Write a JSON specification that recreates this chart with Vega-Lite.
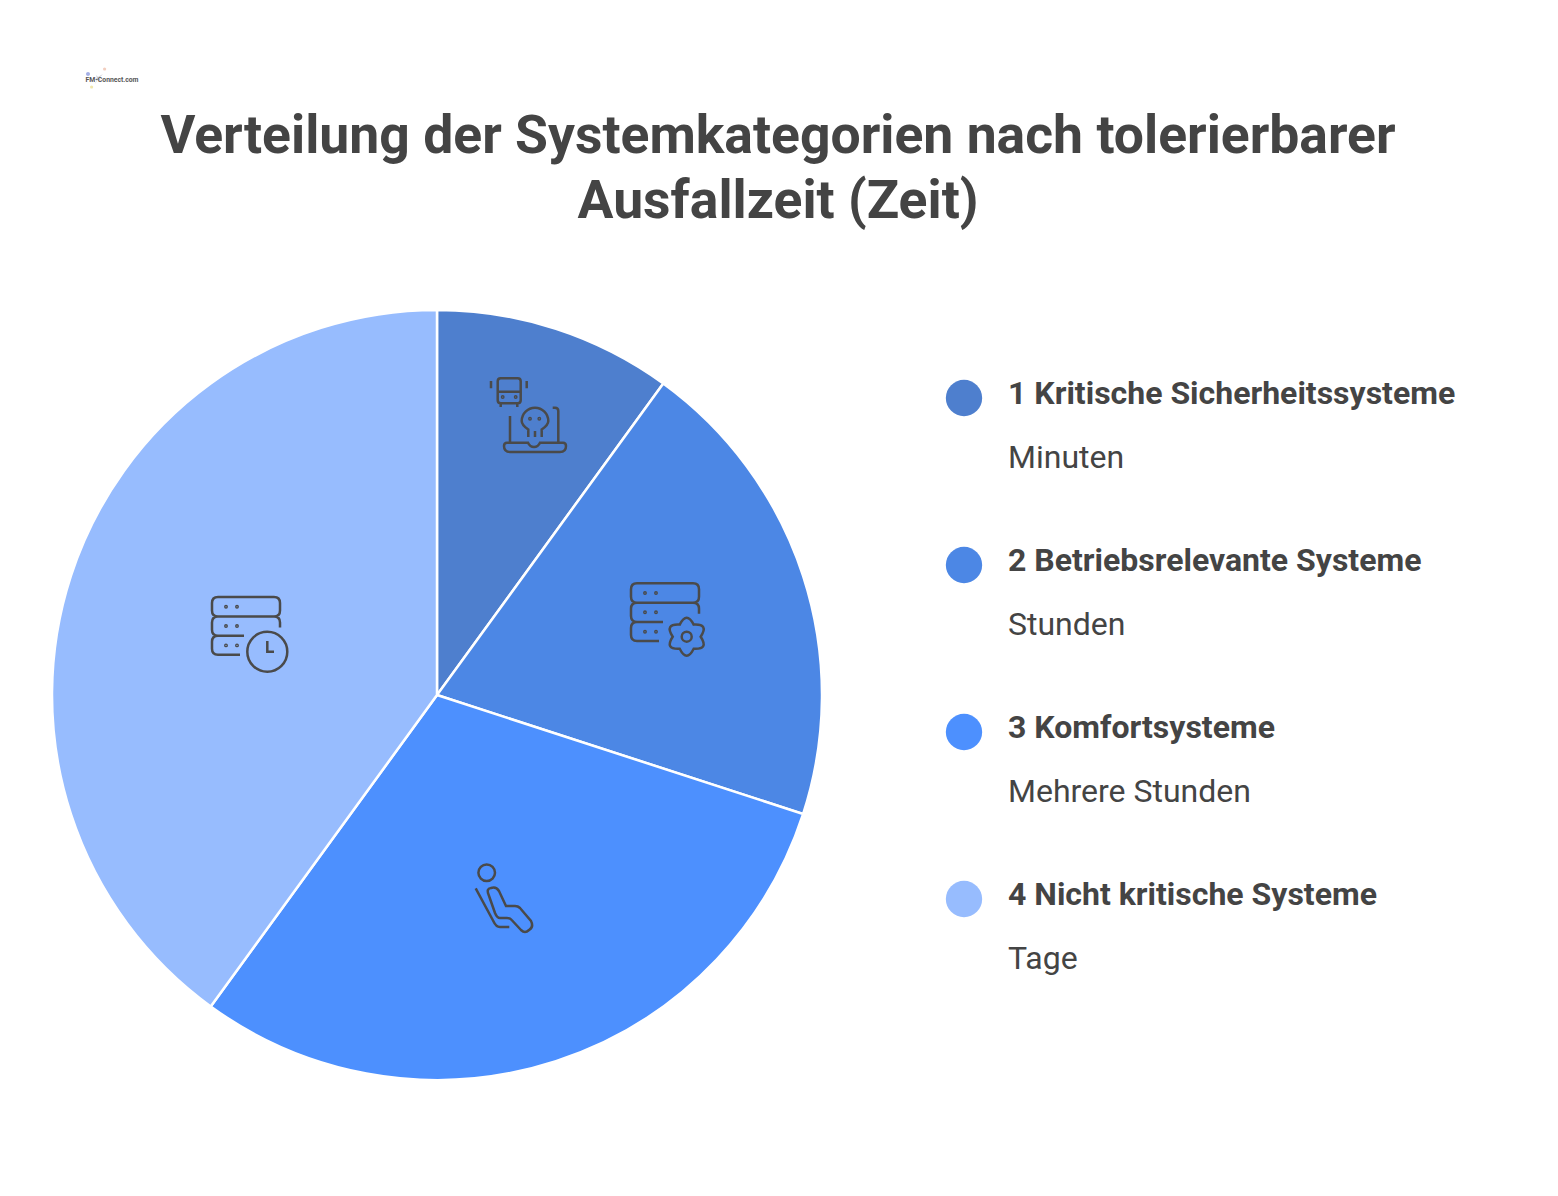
{
  "$schema": "https://vega.github.io/schema/vega-lite/v6.json",
  "description": "Verteilung der Systemkategorien nach tolerierbarer Ausfallzeit",
  "background": "white",
  "padding": {"left": 47, "top": 67, "right": 0, "bottom": 0},
  "config": {"view": {"stroke": null}, "font": "Roboto"},
  "datasets": {
    "systeme": [
      {"Kategorie": "1 Kritische Sicherheitssysteme", "Ausfallzeit": "Minuten", "Anteil": 10},
      {"Kategorie": "2 Betriebsrelevante Systeme", "Ausfallzeit": "Stunden", "Anteil": 20},
      {"Kategorie": "3 Komfortsysteme", "Ausfallzeit": "Mehrere Stunden", "Anteil": 30},
      {"Kategorie": "4 Nicht kritische Systeme", "Ausfallzeit": "Tage", "Anteil": 40}
    ]
  },
  "vconcat": [
    {
      "width": 116,
      "height": 24,
      "layer": [
        {
          "data": {"values": [{"Fleck": "a"}, {"Fleck": "b"}, {"Fleck": "c"}, {"Fleck": "d"}]},
          "mark": {"type": "point", "filled": true, "size": 4, "opacity": 0.55},
          "encoding": {
            "shape": {
              "field": "Fleck",
              "type": "nominal",
              "legend": null,
              "scale": {
                "range": [
                  "M-24,-23 a2,2 0 1,0 4,0 a2,2 0 1,0 -4,0",
                  "M-7,-28 a1.6,1.6 0 1,0 3.2,0 a1.6,1.6 0 1,0 -3.2,0",
                  "M-20,-10 a1.6,1.6 0 1,0 3.2,0 a1.6,1.6 0 1,0 -3.2,0",
                  "M-14,-22 L-13,-19 L-17,-20 L-13,-18 L-15,-13 L-12,-18 L-9,-15 L-11,-19 L-7,-23 L-12,-20 Z"
                ]
              }
            },
            "color": {
              "field": "Fleck",
              "type": "nominal",
              "legend": null,
              "scale": {"range": ["#5b6fd0", "#e8a68a", "#e3d36a", "#9a9fb0"]}
            }
          }
        },
        {
          "data": {"values": [{"logo": "FM-Connect.com"}]},
          "mark": {"type": "text", "fontSize": 6.8, "fontWeight": "bold", "color": "#555555", "dx": 2, "dy": -17},
          "encoding": {"text": {"field": "logo"}}
        }
      ],
      "resolve": {"scale": {"color": "independent"}}
    },
    {
      "title": {
        "text": ["Verteilung der Systemkategorien nach tolerierbarer", "Ausfallzeit (Zeit)"],
        "fontSize": 53.5,
        "lineHeight": 65,
        "fontWeight": "bold",
        "color": "#444444",
        "anchor": "middle",
        "offset": 76
      },
      "hconcat": [
        {
          "width": 770,
          "height": 770,
          "data": {"name": "systeme"},
          "layer": [
            {
              "mark": {"type": "arc", "stroke": "white", "strokeWidth": 2.5},
              "encoding": {
                "theta": {"field": "Anteil", "type": "quantitative", "stack": true},
                "color": {
                  "field": "Kategorie",
                  "type": "nominal",
                  "scale": {"range": ["#4e7fce", "#4c87e5", "#4d90fe", "#97bcfe"]},
                  "legend": null
                },
                "order": {"field": "Kategorie"}
              }
            },
            {
              "mark": {"type": "point", "filled": false, "size": 4, "stroke": "#4a4a4a", "strokeWidth": 2.5, "opacity": 1},
              "encoding": {
                "shape": {
                  "field": "Kategorie",
                  "type": "nominal",
                  "legend": null,
                  "scale": {
                    "range": [
                      "M60.7,-313.7 Q60.7,-316.7 63.7,-316.7 H80.7 Q83.7,-316.7 83.7,-313.7 V-294.7 Q83.7,-291.7 80.7,-291.7 H63.7 Q60.7,-291.7 60.7,-294.7 Z M60.7,-303.3 H83.7 M63.7,-291.7 V-288 M80.3,-291.7 V-288 M65,-298 a0.7,0.7 0 1,0 1.4,0 a0.7,0.7 0 1,0 -1.4,0 M78,-298 a0.7,0.7 0 1,0 1.4,0 a0.7,0.7 0 1,0 -1.4,0 M54,-314 V-306.7 M89.7,-314 V-306.7 M91.3,-258 V-265.5 Q84.7,-270 84.7,-274 A13.3,13.3 0 1,1 111.3,-274 Q111.3,-270 104.7,-265.5 V-258 M98,-258 V-264 M92.3,-276.3 a0.7,0.7 0 1,0 1.4,0 a0.7,0.7 0 1,0 -1.4,0 M101.6,-276.3 a0.7,0.7 0 1,0 1.4,0 a0.7,0.7 0 1,0 -1.4,0 M73,-279 V-253 M115.7,-287.3 H118 Q121.3,-287.3 121.3,-284 V-253 M70,-252.3 H91 Q93,-248 97,-248 Q101,-248 103,-252.3 H126 Q129,-252.3 129,-249 Q129,-243 123,-243 H73 Q67,-243 67,-249 Q67,-252.3 70,-252.3 Z",
                      "M200,-111.7 H256 Q262,-111.7 262,-105.7 V-98.3 Q262,-92.3 256,-92.3 H200 Q194,-92.3 194,-98.3 V-105.7 Q194,-111.7 200,-111.7 Z M200,-92.3 Q194,-92.3 194,-86.3 V-79 Q194,-73 200,-73 H226 M256,-92.3 Q262,-92.3 262,-86.3 V-81.3 M200,-73 Q194,-73 194,-67 V-60 Q194,-54 200,-54 H222 M207.3,-102 a0.7,0.7 0 1,0 1.4,0 a0.7,0.7 0 1,0 -1.4,0 M218.3,-102 a0.7,0.7 0 1,0 1.4,0 a0.7,0.7 0 1,0 -1.4,0 M207.3,-82.7 a0.7,0.7 0 1,0 1.4,0 a0.7,0.7 0 1,0 -1.4,0 M218.3,-82.7 a0.7,0.7 0 1,0 1.4,0 a0.7,0.7 0 1,0 -1.4,0 M207.3,-63.3 a0.7,0.7 0 1,0 1.4,0 a0.7,0.7 0 1,0 -1.4,0 M218.3,-63.3 a0.7,0.7 0 1,0 1.4,0 a0.7,0.7 0 1,0 -1.4,0 M242.7,-70.4 Q249.7,-84.3 256.7,-70.4 Q272.2,-71.3 263.7,-58.3 Q272.2,-45.3 256.7,-46.2 Q249.7,-32.3 242.7,-46.2 Q227.2,-45.3 235.7,-58.3 Q227.2,-71.3 242.7,-70.4 Z M244.7,-58.3 a5,5 0 1,0 10,0 a5,5 0 1,0 -10,0",
                      "M41.4,177.7 a8.3,8.3 0 1,0 16.6,0 a8.3,8.3 0 1,0 -16.6,0 M38.7,193.3 L56.3,226 Q59,232 63,232 H72.3 M51.7,200 Q49,193.5 54,193 Q59,191 62,196 L69,211 H78 Q81,211 83,213 L94,226 Q97,232 92,235 Q88,239 84,235 L74.7,225 Q73,223 70,223 H63 Q60,223 58,218 Z",
                      "M-219,-98 H-163 Q-157,-98 -157,-92 V-84.6 Q-157,-78.6 -163,-78.6 H-219 Q-225,-78.6 -225,-84.6 V-92 Q-225,-98 -219,-98 Z M-219,-78.6 Q-225,-78.6 -225,-72.6 V-65.3 Q-225,-59.3 -219,-59.3 H-193 M-163,-78.6 Q-157,-78.6 -157,-72.6 V-67.6 M-219,-59.3 Q-225,-59.3 -225,-53.3 V-46.3 Q-225,-40.3 -219,-40.3 H-197 M-211.7,-88.3 a0.7,0.7 0 1,0 1.4,0 a0.7,0.7 0 1,0 -1.4,0 M-200.7,-88.3 a0.7,0.7 0 1,0 1.4,0 a0.7,0.7 0 1,0 -1.4,0 M-211.7,-69 a0.7,0.7 0 1,0 1.4,0 a0.7,0.7 0 1,0 -1.4,0 M-200.7,-69 a0.7,0.7 0 1,0 1.4,0 a0.7,0.7 0 1,0 -1.4,0 M-211.7,-49.6 a0.7,0.7 0 1,0 1.4,0 a0.7,0.7 0 1,0 -1.4,0 M-200.7,-49.6 a0.7,0.7 0 1,0 1.4,0 a0.7,0.7 0 1,0 -1.4,0 M-189.7,-43.3 a20,20 0 1,0 40,0 a20,20 0 1,0 -40,0 M-169.7,-54 V-43.3 H-163"
                    ]
                  }
                }
              }
            }
          ]
        },
        {
          "hconcat": [
            {
              "width": 36,
              "height": 770,
              "data": {"name": "systeme"},
              "mark": {"type": "point", "filled": true, "size": 1320, "shape": "circle", "opacity": 1},
              "encoding": {
                "y": {
                  "field": "Kategorie",
                  "type": "ordinal",
                  "axis": null,
                  "scale": {"type": "point", "range": [88, 589], "padding": 0}
                },
                "color": {
                  "field": "Kategorie",
                  "type": "nominal",
                  "scale": {"range": ["#4e7fce", "#4c87e5", "#4d90fe", "#97bcfe"]},
                  "legend": null
                }
              }
            },
            {
              "width": 501,
              "height": 770,
              "data": {"name": "systeme"},
              "encoding": {
                "x": {"datum": 0, "type": "quantitative", "axis": null, "scale": {"domain": [0, 1]}},
                "y": {
                  "field": "Kategorie",
                  "type": "ordinal",
                  "axis": null,
                  "scale": {"type": "point", "range": [89, 590], "padding": 0}
                }
              },
              "layer": [
                {
                  "mark": {"type": "text", "align": "left", "fontSize": 32, "fontWeight": "bold", "color": "#444444", "dy": -5},
                  "encoding": {"text": {"field": "Kategorie"}}
                },
                {
                  "mark": {"type": "text", "align": "left", "fontSize": 32, "color": "#444444", "dy": 59},
                  "encoding": {"text": {"field": "Ausfallzeit"}}
                }
              ]
            }
          ],
          "spacing": 25
        }
      ],
      "spacing": 118,
      "resolve": {"scale": {"color": "independent", "shape": "independent", "y": "independent"}}
    }
  ],
  "spacing": 0
}
